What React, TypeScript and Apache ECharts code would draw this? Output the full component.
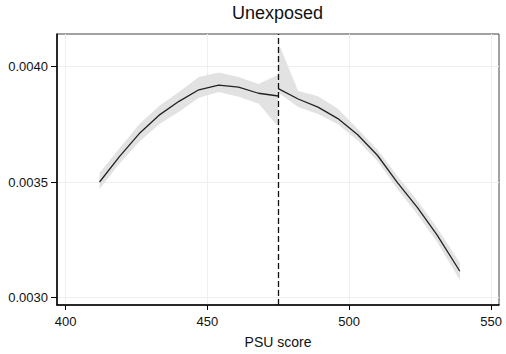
import React, { useEffect, useRef } from "react";
import * as echarts from "echarts";

// Left of cutoff (PSU score < 475)
const leftX = [412, 419, 426, 433, 440, 447, 454, 461, 468, 475];
const leftY = [0.0035, 0.00361, 0.00371, 0.00379, 0.00385, 0.0039, 0.00392, 0.003912, 0.003885, 0.003873];
const leftUpper = [0.00354, 0.003645, 0.00375, 0.00383, 0.00389, 0.003955, 0.003975, 0.003955, 0.003925, 0.003965];
const leftLower = [0.00347, 0.00358, 0.003675, 0.00375, 0.003805, 0.003865, 0.00389, 0.00387, 0.00384, 0.00374];

// Right of cutoff (PSU score >= 475)
const rightX = [475, 482, 489, 496, 503, 510, 517, 524, 531, 539];
const rightY = [0.003905, 0.00386, 0.003825, 0.003775, 0.003705, 0.003615, 0.003497, 0.00339, 0.00327, 0.003113];
const rightUpper = [0.004105, 0.003895, 0.003872, 0.003818, 0.00373, 0.00364, 0.003525, 0.00342, 0.0033, 0.00315];
const rightLower = [0.003888, 0.003825, 0.003795, 0.00375, 0.00368, 0.00359, 0.00347, 0.00336, 0.00324, 0.003075];

const cutoff = 475;
const xTicks = [400, 450, 500, 550];
const yTicks = [0.003, 0.0035, 0.004];

const FONT = "'Liberation Sans', Arial, Helvetica, sans-serif";

function bandSeries(xs: number[], up: number[], lo: number[]) {
  return {
    type: "custom",
    silent: true,
    z: 1,
    data: xs.map((x, i) => [x, up[i]]),
    renderItem: (params: any, api: any) => {
      if (params.dataIndex !== 0) return null;
      const pts: number[][] = [];
      for (let i = 0; i < xs.length; i++) pts.push(api.coord([xs[i], up[i]]));
      for (let i = xs.length - 1; i >= 0; i--) pts.push(api.coord([xs[i], lo[i]]));
      return {
        type: "polygon",
        shape: { points: pts },
        style: { fill: "#e2e2e2", stroke: "none" },
      };
    },
  };
}

export default function App() {
  const ref = useRef<HTMLDivElement>(null);
  useEffect(() => {
    if (!ref.current) return;
    const chart = echarts.init(ref.current, null, { renderer: "svg" });
    chart.setOption({
      animation: false,
      backgroundColor: "#ffffff",
      textStyle: { fontFamily: FONT },
      title: {
        text: "Unexposed",
        left: 232,
        top: 4,
        padding: 0,
        textStyle: { fontFamily: FONT, fontSize: 18, fontWeight: "normal", color: "#111" },
      },
      grid: {
        left: 57,
        right: 7,
        top: 34,
        bottom: 39,
        show: true,
        borderColor: "#444",
        borderWidth: 1,
        backgroundColor: "transparent",
      },
      xAxis: {
        type: "value",
        min: 397,
        max: 552.8,
        name: "PSU score",
        nameLocation: "middle",
        nameGap: 30,
        nameTextStyle: { fontFamily: FONT, fontSize: 14, color: "#111" },
        axisLine: { show: true, onZero: false, lineStyle: { color: "#000", width: 1.5 } },
        axisTick: { show: true, length: 5, lineStyle: { color: "#000" }, customValues: xTicks },
        axisLabel: { customValues: xTicks, margin: 10, fontFamily: FONT, fontSize: 13, color: "#111" },
        splitLine: { show: true, lineStyle: { color: "#efefef", width: 1 } },
      },
      yAxis: {
        type: "value",
        min: 0.0029665,
        max: 0.004142,
        axisLine: { show: true, onZero: false, lineStyle: { color: "#000", width: 1.5 } },
        axisTick: { show: true, length: 6, lineStyle: { color: "#000" }, customValues: yTicks },
        axisLabel: {
          customValues: yTicks,
          margin: 9,
          fontFamily: FONT,
          fontSize: 13,
          color: "#111",
          formatter: (v: number) => v.toFixed(4),
        },
        splitLine: { show: true, lineStyle: { color: "#efefef", width: 1 } },
      },
      series: [
        bandSeries(leftX, leftUpper, leftLower),
        bandSeries(rightX, rightUpper, rightLower),
        {
          type: "line",
          z: 3,
          data: leftX.map((x, i) => [x, leftY[i]]),
          symbol: "none",
          lineStyle: { color: "#222", width: 1.3 },
          markLine: {
            silent: true,
            symbol: ["none", "none"],
            label: { show: false },
            lineStyle: { color: "#111", type: [6, 3], width: 1.3 },
            data: [{ xAxis: cutoff }],
          },
        },
        {
          type: "line",
          z: 3,
          data: rightX.map((x, i) => [x, rightY[i]]),
          symbol: "none",
          lineStyle: { color: "#222", width: 1.3 },
        },
      ],
    });
    return () => chart.dispose();
  }, []);
  return <div ref={ref} style={{ width: 506, height: 354, position: "absolute", left: 0, top: 0 }} />;
}
